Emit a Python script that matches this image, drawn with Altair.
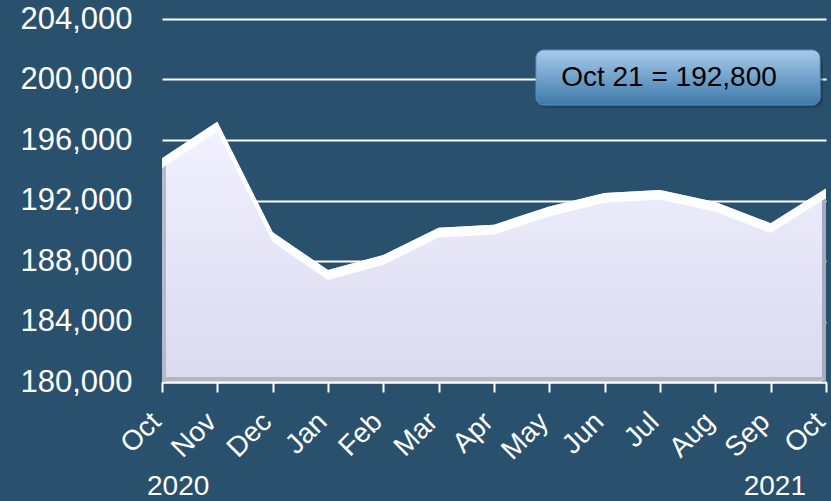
import json
import altair as alt
import pandas as pd

MONTHS = ["Oct", "Nov", "Dec", "Jan", "Feb", "Mar", "Apr", "May", "Jun", "Jul", "Aug", "Sep", "Oct"]
VALUES = [194800, 197200, 189900, 187400, 188400, 190200, 190400, 191600, 192500, 192700, 191900, 190500, 192800]
YEARS = ["2020", "2021"]
Y_TICKS = [180000, 184000, 188000, 192000, 196000, 200000, 204000]

BG = "#29516d"
FONT = "Liberation Sans"

df = pd.DataFrame({
    "i": list(range(len(VALUES))),
    "month": MONTHS,
    "value": VALUES,
    "base": [Y_TICKS[0]] * len(VALUES),
})

x_scale = alt.Scale(domain=[0, len(VALUES) - 1], nice=False, zero=False)
x_axis = alt.Axis(
    values=list(range(len(MONTHS))),
    labelExpr=f"{json.dumps(MONTHS)}[datum.value]",
    labelAngle=-45,
    labelAlign="right",
    labelBaseline="alphabetic",
    labelFontSize=28,
    labelFont=FONT,
    labelColor="white",
    labelPadding=31,
    labelFlush=False,
    labelOverlap=False,
    labelBound=False,
    grid=False,
    domainColor="white",
    domainWidth=2,
    tickColor="white",
    tickWidth=2,
    tickSize=10,
    title=None,
)
y_scale = alt.Scale(domain=[Y_TICKS[0], Y_TICKS[-1]], nice=False, zero=False)
y_axis = alt.Axis(
    values=Y_TICKS,
    format=",d",
    labelFontSize=31,
    labelFont=FONT,
    labelColor="white",
    labelPadding=30,
    grid=True,
    gridColor="white",
    gridWidth=2,
    gridOpacity=1,
    domain=False,
    ticks=False,
    title=None,
)

def X(field):
    return alt.X(field, scale=x_scale, axis=x_axis)

def Y(field):
    return alt.Y(field, scale=y_scale, axis=y_axis)

base = alt.Chart(df)

area = base.mark_area(
    color=alt.Gradient(
        gradient="linear",
        stops=[
            alt.GradientStop(color="#f1f1ff", offset=0),
            alt.GradientStop(color="#d9daee", offset=1),
        ],
        x1=0, x2=0, y1=0, y2=1,
    ),
).encode(x=X("i:Q"), y=Y("value:Q"), y2="base:Q")

# subtle edges for the 3D look
edge_left = alt.Chart(df).mark_rule(color="#b8b8cc", strokeWidth=4).encode(
    x=alt.value(2), y=alt.value(363), y2=alt.value(140)
)
edge_right = alt.Chart(df).mark_rule(color="#a9a9bd", strokeWidth=4).encode(
    x=alt.value(662), y=alt.value(363), y2=alt.value(175)
)
edge_bottom = alt.Chart(df).mark_rule(color="#b5b5c8", strokeWidth=4).encode(
    x=alt.value(2), x2=alt.value(662), y=alt.value(360)
)

bevel = base.transform_calculate(low="datum.value - 650").mark_area(
    color="white", opacity=0.95
).encode(x=X("i:Q"), y=Y("value:Q"), y2="low:Q")

label_text = f"{MONTHS[-1]} 21 = {VALUES[-1]:,}"
ann_df = pd.DataFrame({"t": [label_text]})
box_shadow = alt.Chart(ann_df).mark_rect(
    color="#1a3347", opacity=0.5, cornerRadius=8
).encode(x=alt.value(377), x2=alt.value(661), y=alt.value(34), y2=alt.value(89))
box = alt.Chart(ann_df).mark_rect(
    color=alt.Gradient(
        gradient="linear",
        stops=[
            alt.GradientStop(color="#aacbec", offset=0),
            alt.GradientStop(color="#3b79aa", offset=1),
        ],
        x1=0, x2=0, y1=0, y2=1,
    ),
    cornerRadius=8,
    stroke="#5a92c2",
    strokeWidth=1,
).encode(x=alt.value(374), x2=alt.value(658), y=alt.value(31), y2=alt.value(86))
box_text = alt.Chart(ann_df).mark_text(
    font=FONT, fontSize=28, color="black", align="center", baseline="middle"
).encode(x=alt.value(507), y=alt.value(59), text="t:N")

ydf = pd.DataFrame({"i": [0, len(VALUES) - 1], "year": YEARS})
year_left = alt.Chart(ydf.iloc[[0]]).mark_text(
    font=FONT, fontSize=28, color="white", align="left", baseline="middle", dx=-15
).encode(x=X("i:Q"), y=alt.value(468), text="year:N")
year_right = alt.Chart(ydf.iloc[[1]]).mark_text(
    font=FONT, fontSize=28, color="white", align="right", baseline="middle", dx=-20
).encode(x=X("i:Q"), y=alt.value(468), text="year:N")

chart = alt.layer(
    area, edge_left, edge_right, edge_bottom, bevel, box_shadow, box, box_text, year_left, year_right
).properties(
    width=664,
    height=363,
    background=BG,
    padding={"left": 162, "top": 19, "right": 5, "bottom": 119},
    autosize=alt.AutoSizeParams(type="none"),
).configure_view(stroke=None).configure_axisY(
    format=",d", labelFontSize=31, labelFont=FONT
)

chart.save("out.html", embed_options={"renderer": "svg", "actions": False})
